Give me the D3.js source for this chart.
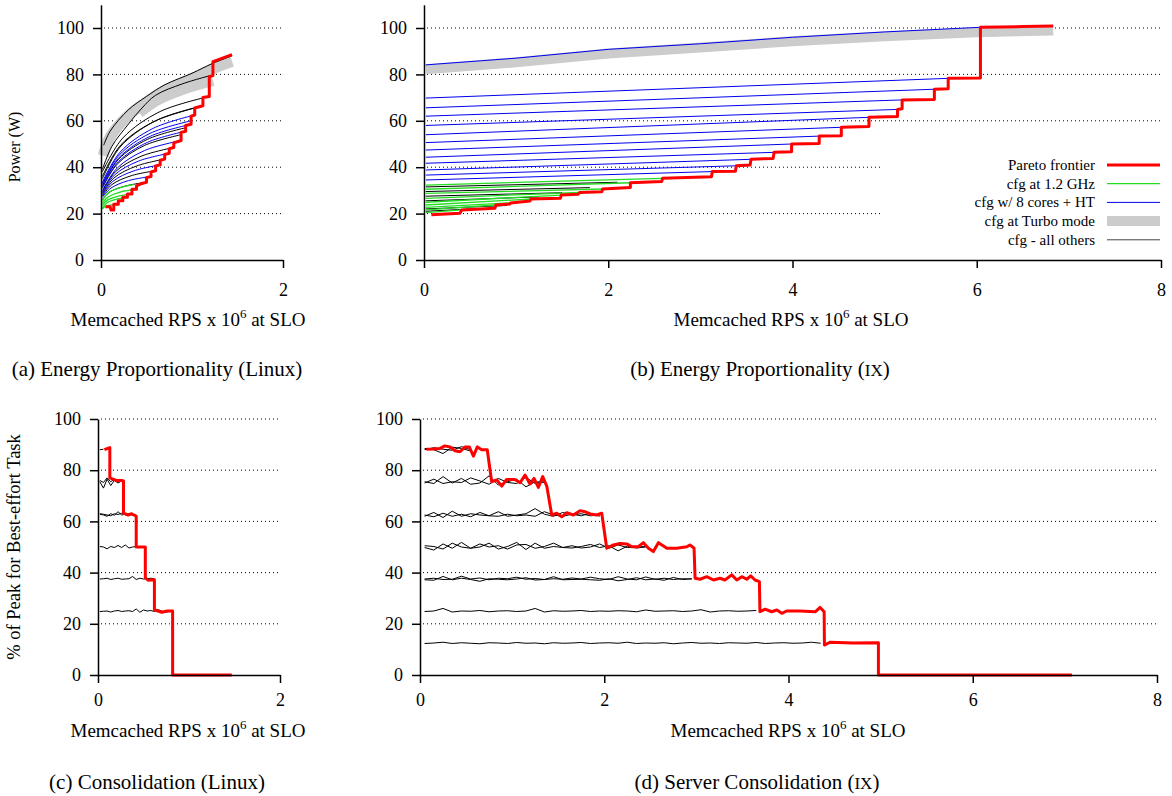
<!DOCTYPE html>
<html>
<head>
<meta charset="utf-8">
<script src="https://cdn.jsdelivr.net/npm/d3@7"></script>
<style>
  body { margin: 0; background: #fff; }
  svg { display: block; }
</style>
</head>
<body>
<script>
// ---- data ----
var yTicks = [0, 20, 40, 60, 80, 100];
var xTicksLinux = [0, 2];
var xTicksIX = [0, 2, 4, 6, 8];

// (a) energy proportionality, Linux
var linuxGreen = [
  [[0.015,22],[0.04,22.9],[0.10,23.6],[0.19,24]],
  [[0.015,22.5],[0.06,24.5],[0.16,26.1],[0.29,27]],
  [[0.015,23.5],[0.07,25.8],[0.19,27.5],[0.34,28.5]],
  [[0.015,24.5],[0.08,27.2],[0.21,29.3],[0.39,30.5]],
  [[0.015,25.5],[0.07,28.7],[0.20,31.1],[0.36,32.5]]
];
var linuxBlue = [
  [[0.015,27],[0.11,31],[0.30,34.2],[0.55,36]],
  [[0.015,28],[0.13,33.9],[0.36,38.4],[0.65,41]],
  [[0.015,29],[0.15,36.7],[0.41,42.6],[0.75,46]],
  [[0.015,30],[0.18,39.7],[0.48,47.2],[0.88,51.5]],
  [[0.015,31.5],[0.19,42.3],[0.51,50.7],[0.93,55.5]],
  [[0.015,32.5],[0.20,44.2],[0.54,53.3],[0.99,58.5]],
  [[0.015,33],[0.20,45.2],[0.54,54.6],[0.99,60]],
  [[0.015,33.5],[0.21,46.5],[0.57,56.7],[1.03,62.5]]
];
var linuxBlack = [
  [[0.015,26],[0.10,29.4],[0.28,32],[0.50,33.5]],
  [[0.015,27.5],[0.12,32.5],[0.33,36.3],[0.60,38.5]],
  [[0.015,28.5],[0.14,35.3],[0.39,40.5],[0.70,43.5]],
  [[0.015,29.5],[0.16,38.1],[0.44,44.7],[0.80,48.5]],
  [[0.015,31],[0.18,41.4],[0.48,49.4],[0.88,54]],
  [[0.015,32],[0.19,43.3],[0.51,52],[0.93,57]],
  [[0.015,35],[0.21,48.7],[0.57,59.4],[1.03,65.5]],
  [[0.015,36],[0.22,49.7],[0.62,60.4],[1.12,66.5]],
  [[0.015,38],[0.24,52.6],[0.65,64],[1.19,70.5]],
  [[0.015,39],[0.12,49],[0.3,58.5],[0.45,65.5],[0.6,71],[0.9,76],[1.23,79.8]],
  [[0.03,49.5],[0.1,55.5],[0.3,64.7],[0.5,70.5],[0.7,75.5],[1.0,80.5],[1.23,84.8],[1.44,88]]
];
var linuxTurbo = [
  [[0.025,45],[0.1,53],[0.3,62.3],[0.5,68.1],[0.7,73.1],[1.0,78.1],[1.23,82.4],[1.44,85.6]],
  [[0.42,63.5],[0.6,68.6],[0.9,73.6],[1.23,77.4]]
];
var linuxFrontier = [[0.05,23],[0.10,23],[0.11,21.5],[0.14,21.5],[0.14,24],[0.19,24],[0.19,25.5],
  [0.24,25.5],[0.24,27],[0.29,27],[0.29,28.5],[0.34,28.5],[0.34,30.5],[0.39,30.5],[0.39,32],
  [0.45,33],[0.50,33.5],[0.50,35.5],[0.55,36],[0.55,38],[0.60,38.5],[0.60,40.5],[0.65,41],
  [0.65,43],[0.70,43.5],[0.70,45.5],[0.75,46],[0.75,48],[0.80,48.5],[0.80,50.5],[0.88,51.5],
  [0.88,55],[0.93,55.5],[0.93,58],[0.99,58.5],[0.99,62],[1.03,62.5],[1.03,65.5],[1.12,66.5],
  [1.12,70],[1.19,70.5],[1.19,79],[1.23,79.5],[1.23,85.5],[1.44,88.5]];

// (b) energy proportionality, IX
var ixBlue = [
  [[0.02,69.8],[5.69,78.3]], [[0.02,65.6],[5.54,73.6]], [[0.02,62],[5.19,69]],
  [[0.02,58],[5.14,64.9]], [[0.02,54],[4.83,61.5]], [[0.02,50.6],[4.53,57.2]],
  [[0.02,47.4],[4.29,53.4]], [[0.02,44.3],[3.99,50]], [[0.02,41.7],[3.80,46.4]],
  [[0.02,38.8],[3.55,43.4]], [[0.02,36.6],[3.38,40.6]], [[0.02,34.5],[3.12,38.1]],
  [[0.02,84.1],[1,87],[2,90.8],[3,93.2],[4,96],[5,98.3],[6.04,100.3]]
];
var ixGreen = [
  [[0.02,32.3],[2.58,35.2]], [[0.02,30.5],[2.24,33.3]], [[0.02,28.7],[1.93,30.6]],
  [[0.02,26.6],[1.69,29.1]], [[0.02,24.9],[1.49,28]], [[0.02,23.7],[1.16,26.3]],
  [[0.02,22.7],[0.93,24.6]], [[0.02,21.6],[0.78,23.7]], [[0.02,20.4],[0.41,21.6]]
];
var ixBlack = [
  [[0.02,31.5],[2.1,33.5]], [[0.02,29.5],[1.8,31.2]], [[0.02,27.5],[1.5,29]],
  [[0.02,25.5],[1.25,27.2]], [[0.02,22],[0.9,23.5]], [[0.02,21],[0.6,22.2]]
];
var ixTurbo = [[[0.02,82.2],[1,85.2],[2,89],[3,91.6],[4,94.3],[5,96.4],[6,98.2],[6.83,98.9]]];
var ixFrontier = [[0.08,19.5],[0.39,20.1],[0.41,21.6],[0.77,22.3],[0.78,23.7],[0.93,24.1],[0.94,24.6],
  [1.15,25.4],[1.16,26.3],[1.48,26.6],[1.49,28],[1.67,28.3],[1.69,29.1],[1.93,29.4],[1.94,30.6],
  [2.24,31.3],[2.24,33.3],[2.58,33.8],[2.59,35.2],[3.12,35.9],[3.13,38.1],[3.38,38.3],[3.39,40.6],
  [3.54,40.9],[3.55,43.4],[3.79,43.8],[3.80,46.4],[3.99,46.7],[3.99,50],[4.29,50.2],[4.29,53.4],
  [4.53,53.6],[4.53,57.2],[4.83,57.5],[4.83,61.5],[5.14,61.8],[5.14,64.9],[5.19,65.2],[5.19,69],
  [5.54,69.2],[5.54,73.6],[5.69,73.8],[5.69,78.3],[6.04,78.5],[6.04,100.3],[6.5,100.6],[6.83,100.9]];
var legendLabels = ["Pareto frontier", "cfg at 1.2 GHz", "cfg w/ 8 cores + HT", "cfg at Turbo mode", "cfg - all others"];

// (c) consolidation, Linux
var loadC = [0.02,0.06,0.10,0.14,0.18,0.22,0.26,0.30,0.34,0.38,0.42,0.46,0.50,0.54,0.58,0.62,0.66,0.70,0.74,0.78,0.82];
var linuxBE = [
  [88,88.2],
  [75.5,73,76.5,74,76,75,75.8],
  [76,75.2,77,75.5,76.5,75.5,76],
  [62.8,62.5,62,63,62.4,63.8,62.5,62.8,63,62.4,62.5],
  [63,62.8,62.5,62.2,63,62.7,63.2,62.6,62.5,62.8,62.4],
  [50.2,50,49.3,50.2,49.8,50.6,49.8,50.8,49.6,50,50.2,49.8,50],
  [37.5,37.6,37.8,37.3,37.6,37.8,37.4,37.5,37.6,38.5,37.3,37.8,37.5,37.6,37.8,37.6],
  [24.8,24.9,25,24.6,25,25.2,24.8,25,25.1,24.8,25.8,24.5,25.4,25,25.2,24.8,25.5,25,24.5,24.8,25]
];
var linuxBEFrontier = [[0.07,88],[0.13,88.8],[0.13,77],[0.2,76],[0.26,76],[0.28,75.8],[0.28,63.2],
  [0.33,62.5],[0.37,63],[0.42,62],[0.42,50],[0.52,50],[0.52,38],[0.55,37],[0.62,37.2],[0.62,25.5],
  [0.7,24.5],[0.76,25],[0.82,25],[0.82,0],[1.47,0]];

// (d) server consolidation, IX
var loadD = [0.05,0.15,0.25,0.35,0.45,0.55,0.65,0.75,0.85,0.95,1.05,1.15,1.25,1.35,1.45,1.55,1.65,
  1.75,1.85,1.95,2.05,2.15,2.25,2.35,2.45,2.55,2.65,2.75,2.85,2.95,3.05,3.15,3.25,3.35,3.45,3.55,
  3.65,3.75,3.85,3.95,4.05,4.15,4.25,4.35];
var ixBE = [
  [88.5,88,86.5,89,88.5,87.5],
  [88,88.8,88.2,87.8,89.2,88],
  [75.5,74.8,77.5,75,76.8,74.5,75,77.8,74.2,75.5,76.5,73.5,75.5,75.2],
  [75,76.5,74.8,75.5,75.2,77,75.8,74.5,76.8,75.2,74.8,77.2,74.8,76],
  [62,63.5,61.5,64,62,63,62.5,62.2,63.8,62,62.5,63,65,62.8,62,63.5,62.5,63,62.2,62.5],
  [62.5,61.8,63.2,62,62.8,61.8,63.5,62.2,62,62.8,62.2,62.5,62,63.8,62.5,62,62.8,62.2,63.2,62],
  [49.8,48.8,51.2,49.5,51.8,49.5,50,51.5,49.2,50.2,51.8,49,51.5,49.5,50.2,49.8,50.5,49.6,50,51.2,49.5,50.8,49.8,50,50.2],
  [50.5,50.2,49.2,51.5,50,49.5,51.2,50,50.5,49.2,50.8,51,49.5,50.2,51.5,49.8,49.6,50.2,51,49.8,50.5,48.5,50.3,49.6,50],
  [37.2,37,38.5,37.2,37.8,37.3,36.6,37.6,37.4,37.2,37.5,38,37.1,37.3,38.4,37.2,37.3,37.4,37.2,37,37.6,36.8,37.3,38,37.2,37.5,37,38.1,37.3,37.6],
  [37.5,37.8,37.3,37.4,38.6,37.5,37.9,37.2,37.8,37.6,38.2,37.4,37.7,37.3,37.6,37.4,37.9,37.5,38.2,37.6,37.3,38.4,37.5,37.2,38.3,37.4,37.8,37.3,37.6,37.5],
  [24.8,25,26,24.6,25,24.9,25.2,24.7,25,25.1,24.8,25,26,24.6,25.1,24.9,25,25.2,24.8,25,24.9,25.1,25,24.7,25.4,24.9,25,25.1,24.8,25,25.5,24.6,25,25.1,24.9,25,25.2],
  [12.3,12.5,12.8,12.3,12.6,12.4,12.2,12.6,12.5,12.3,12.7,12.4,12.5,12.2,12.6,12.4,12.5,12.7,12.3,12.5,12.6,12.4,12.8,12.3,12.5,12.4,12.6,12.2,12.5,12.7,12.4,12.5,12.3,12.6,12.5,12.4,12.7,12.3,12.5,12.6,12.4,12.5,12.8,12.4]
];
var ixBEFrontier = [[0.07,88.2],[0.145,88.3],[0.217,88.5],[0.27,89.5],[0.326,89.1],[0.38,87.6],[0.434,87.2],
  [0.489,89.1],[0.535,89.1],[0.58,85.5],[0.622,89.1],[0.67,88],[0.73,88],
  [0.778,75.5],[0.833,76.2],[0.887,73.8],[0.94,76.4],[1.03,76.4],[1.086,75.1],[1.14,78.1],[1.194,74.6],
  [1.238,76.8],[1.285,73.3],[1.332,77.5],[1.376,73.8],
  [1.43,62.5],[1.484,63.2],[1.539,61.8],[1.593,63.4],[1.665,62.5],[1.737,64.2],[1.79,63.8],[1.846,62.9],
  [1.918,62.5],[1.973,63.2],
  [2.027,49.5],[2.10,50.8],[2.17,51.4],[2.245,51.2],[2.30,50.1],[2.37,50.1],[2.425,51.7],[2.48,49.5],
  [2.533,48.2],[2.588,51.7],[2.68,49.5],[2.787,49.5],[2.896,50.1],[2.93,50.8],[2.975,49.5],
  [2.986,37.8],[3.04,37.4],[3.113,38.4],[3.185,37.1],[3.257,37.8],[3.31,37.1],[3.384,39.1],[3.439,37.1],
  [3.493,38.4],[3.547,37.4],[3.59,38.7],[3.637,37.1],[3.684,36.5],
  [3.69,24.7],[3.746,25.7],[3.818,24.7],[3.873,25.4],[3.927,24.1],[3.98,25],[4.126,25],[4.29,24.7],
  [4.343,26.4],[4.387,24.7],
  [4.39,11.7],[4.45,12.8],[4.7,12.5],[4.976,12.6],[4.976,0],[7.076,0]];

// ---- drawing ----
var FONT = "'Liberation Serif', 'Times New Roman', serif";
var RED = "#ff0000", BLUE = "#0000ee", GREEN = "#22dd22", GRAY = "#cccccc";
var SMOOTH = d3.curveCatmullRom.alpha(0.5);

var svg = d3.select("body").append("svg")
    .attr("width", 1172).attr("height", 796)
    .style("font-family", FONT);
svg.append("rect").attr("width", 1172).attr("height", 796).attr("fill", "#fff");

var xa = d3.scaleLinear().domain([0, 2]).range([101, 283]);
var ya = d3.scaleLinear().domain([0, 110]).range([260, 4.8]);
var xb = d3.scaleLinear().domain([0, 8]).range([424, 1161]);
var xc = d3.scaleLinear().domain([0, 2]).range([98, 280]);
var yc = d3.scaleLinear().domain([0, 100]).range([675, 419]);
var xd = d3.scaleLinear().domain([0, 8]).range([420, 1157]);

function grid(x, y, xEnd, shortEnd) {
  yTicks.slice(1).forEach(function(t) {
    var end = (shortEnd && t <= 40) ? x(shortEnd) : x(xEnd);
    svg.append("line")
      .attr("x1", x(0) + 3).attr("x2", end)
      .attr("y1", y(t)).attr("y2", y(t))
      .attr("stroke", "#000").attr("stroke-width", 1)
      .attr("stroke-dasharray", "1,3");
  });
}

function axes(x, y, xticks, padX) {
  var fmt = d3.format("d");
  var gy = svg.append("g").attr("transform", "translate(" + x(0) + ",0)")
    .call(d3.axisLeft(y).tickValues(yTicks).tickFormat(fmt).tickSize(8).tickSizeOuter(0).tickPadding(9));
  var gx = svg.append("g").attr("transform", "translate(0," + y(0) + ")")
    .call(d3.axisBottom(x).tickValues(xticks).tickFormat(fmt).tickSize(8).tickSizeOuter(0).tickPadding(padX));
  [gy, gx].forEach(function(g) {
    g.selectAll("text").attr("font-family", FONT).attr("font-size", 18).attr("fill", "#000");
    g.selectAll("path, line").attr("stroke", "#000").attr("stroke-width", 1.5);
  });
}

function lines(x, y, data, color, width, curve) {
  var gen = d3.line().x(function(d) { return x(d[0]); }).y(function(d) { return y(d[1]); })
    .curve(curve || d3.curveLinear);
  svg.append("g").selectAll("path").data(data).enter().append("path")
    .attr("d", gen).attr("fill", "none")
    .attr("stroke", color).attr("stroke-width", width)
    .attr("stroke-linejoin", "round");
}

function levels(load, series) {
  return series.map(function(vals) {
    return vals.map(function(v, i) { return [load[i], v]; });
  });
}

function xTitle(cx, by) {
  var t = svg.append("text").attr("x", cx).attr("y", by)
    .attr("text-anchor", "middle").attr("font-size", 19);
  t.append("tspan").text("Memcached RPS x 10");
  t.append("tspan").attr("dy", -8).attr("font-size", 13).text("6");
  t.append("tspan").attr("dy", 8).text(" at SLO");
}

function caption(cx, by, pre, tag, post) {
  var t = svg.append("text").attr("x", cx).attr("y", by)
    .attr("text-anchor", "middle").attr("font-size", 21);
  t.append("tspan").text(pre);
  if (tag) t.append("tspan").attr("font-size", 17).text(tag);
  if (post) t.append("tspan").text(post);
}

function yTitle(cx, cy, s, size) {
  svg.append("text").attr("transform", "translate(" + cx + "," + cy + ") rotate(-90)")
    .attr("text-anchor", "middle").attr("font-size", size).text(s);
}

// (a)
grid(xa, ya, 2);
lines(xa, ya, linuxBlack.slice(0, -2), "#000", 1, SMOOTH);
lines(xa, ya, linuxTurbo, GRAY, 11, SMOOTH);
lines(xa, ya, linuxBlack.slice(-2), "#000", 1, SMOOTH);
lines(xa, ya, linuxBlue, BLUE, 1, SMOOTH);
lines(xa, ya, linuxGreen, GREEN, 1.3, SMOOTH);
lines(xa, ya, [linuxFrontier], RED, 3);
axes(xa, ya, xTicksLinux, 15);
yTitle(20, 147, "Power (W)", 16);
xTitle(188, 326);
caption(157, 376, "(a) Energy Proportionality (Linux)");

// (b)
grid(xb, ya, 8, 4.95);
lines(xb, ya, ixTurbo, GRAY, 10);
lines(xb, ya, ixBlack, "#000", 1);
lines(xb, ya, ixBlue, BLUE, 1);
lines(xb, ya, ixGreen, GREEN, 1.3);
lines(xb, ya, [ixFrontier], RED, 3);
axes(xb, ya, xTicksIX, 15);
xTitle(791, 326);
caption(760, 376, "(b) Energy Proportionality (", "IX", ")");

var legendStyle = [[RED, 3], [GREEN, 1.3], [BLUE, 1], [GRAY, 10], ["#444", 1]];
legendLabels.forEach(function(lab, i) {
  var ly = 165 + i * 18.7;
  svg.append("text").attr("x", 1095).attr("y", ly + 5)
    .attr("text-anchor", "end").attr("font-size", 15).text(lab);
  svg.append("line").attr("x1", 1107).attr("x2", 1160).attr("y1", ly).attr("y2", ly)
    .attr("stroke", legendStyle[i][0]).attr("stroke-width", legendStyle[i][1]);
});

// (c)
grid(xc, yc, 2);
lines(xc, yc, levels(loadC, linuxBE), "#000", 1);
lines(xc, yc, [linuxBEFrontier], RED, 3);
axes(xc, yc, xTicksLinux, 10);
yTitle(20, 547, "% of Peak for Best-effort Task", 18.5);
xTitle(188, 737);
caption(157, 789, "(c) Consolidation (Linux)");

// (d)
grid(xd, yc, 8);
lines(xd, yc, levels(loadD, ixBE), "#000", 1);
lines(xd, yc, [ixBEFrontier], RED, 3);
axes(xd, yc, xTicksIX, 10);
xTitle(788, 737);
caption(757, 789, "(d) Server Consolidation (", "IX", ")");
</script>
</body>
</html>
